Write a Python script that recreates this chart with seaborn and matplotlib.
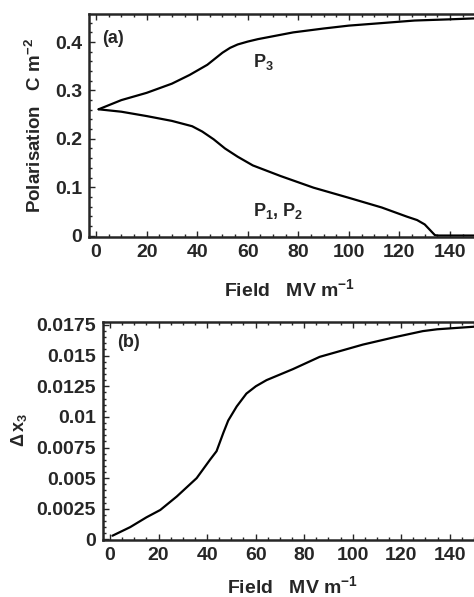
import matplotlib
matplotlib.use("Agg")
import matplotlib.pyplot as plt
from matplotlib.ticker import MultipleLocator, FuncFormatter
import seaborn as sns
import pandas as pd

# Panel (a): polarisation components vs applied field
field_p3 = [1, 10, 20, 30, 37, 44, 50, 53, 56, 60, 64, 70, 78, 90, 100, 110,
            126, 140, 150]
p3 = [0.261, 0.280, 0.295, 0.314, 0.332, 0.353, 0.378, 0.388, 0.395, 0.401,
      0.406, 0.412, 0.420, 0.428, 0.434, 0.438, 0.4445, 0.447, 0.449]

field_p1 = [1, 10, 20, 30, 38, 42, 46.5, 51, 56, 62, 73, 86, 100, 113, 123,
            127, 130, 132, 134, 135, 150]
p1 = [0.261, 0.256, 0.247, 0.237, 0.226, 0.215, 0.199, 0.180, 0.163, 0.145,
      0.123, 0.099, 0.078, 0.058, 0.039, 0.032, 0.023, 0.012, 0.001, 0.0, 0.0]

# Panel (b): strain change vs applied field
field_x3 = [1, 8.3, 15, 20.7, 27.5, 35.7, 41.2, 43.9, 46.7, 48.7, 52.2, 56.2,
            60.1, 64.5, 75.4, 86.4, 104.2, 117.2, 128.9, 134.8, 150]
dx3 = [0.0003, 0.0010, 0.0018, 0.0024, 0.0035, 0.0050, 0.0065, 0.0072,
       0.0087, 0.0097, 0.01085, 0.0119, 0.0125, 0.0130, 0.0139, 0.0149,
       0.0159, 0.0165, 0.0170, 0.01715, 0.01736]

sns.set_style("ticks")
plt.rcParams["font.family"] = ["Liberation Sans", "DejaVu Sans"]
plt.rcParams["font.weight"] = "bold"
plt.rcParams["mathtext.fontset"] = "custom"
plt.rcParams["mathtext.rm"] = "Liberation Sans:bold"
plt.rcParams["mathtext.bf"] = "Liberation Sans:bold"
plt.rcParams["mathtext.it"] = "Liberation Sans:bold:italic"
plt.rcParams["mathtext.default"] = "rm"

W, H = 474, 597
fig = plt.figure(figsize=(W / 100, H / 100), dpi=100)

ax_a = fig.add_axes([89 / W, 1 - 237 / H, 385 / W, 223 / H])
ax_b = fig.add_axes([103 / W, 1 - 540 / H, 371 / W, 217.7 / H])

df_p3 = pd.DataFrame({"field": field_p3, "val": p3})
df_p1 = pd.DataFrame({"field": field_p1, "val": p1})
df_x3 = pd.DataFrame({"field": field_x3, "val": dx3})

line_kw = dict(color="black", linewidth=1.6, sort=False, estimator=None)
sns.lineplot(data=df_p3, x="field", y="val", ax=ax_a, **line_kw)
sns.lineplot(data=df_p1, x="field", y="val", ax=ax_a, **line_kw)
sns.lineplot(data=df_x3, x="field", y="val", ax=ax_b, **line_kw)

fmt = FuncFormatter(lambda v, pos: "%g" % round(v, 6))

for ax in (ax_a, ax_b):
    ax.xaxis.set_major_locator(MultipleLocator(20))
    ax.xaxis.set_minor_locator(MultipleLocator(5))
    ax.tick_params(which="both", direction="in", top=True, right=False,
                   labelsize=14, width=1.0)
    ax.tick_params(which="major", length=4, pad=5)
    ax.tick_params(which="minor", length=2)
    ax.spines["right"].set_visible(False)
    for s in ("left", "bottom", "top"):
        ax.spines[s].set_linewidth(1.8)
    ax.yaxis.set_major_formatter(fmt)
    for lab in ax.get_xticklabels() + ax.get_yticklabels():
        lab.set_fontweight("bold")
    ax.set_xlabel("Field   MV m$^{-1}$", fontsize=14, fontweight="bold")

ax_a.set_xlim(-2.8, 149.5)
ax_a.set_ylim(-0.003, 0.458)
ax_a.yaxis.set_major_locator(MultipleLocator(0.1))
ax_a.yaxis.set_minor_locator(MultipleLocator(0.02))
ax_a.set_ylabel("Polarisation   C m$^{-2}$", fontsize=13.5, fontweight="bold")
ax_a.yaxis.set_label_coords(-0.115, 0.5)
ax_a.xaxis.set_label_coords(0.52, -0.185)
ax_a.text(0.034, 0.89, "(a)", transform=ax_a.transAxes, fontsize=13,
          fontweight="bold", va="center", ha="left")
ax_a.text(66, 0.359, "P$_3$", fontsize=13, fontweight="bold",
          ha="center", va="center")
ax_a.text(72, 0.05, "P$_1$, P$_2$", fontsize=13, fontweight="bold",
          ha="center", va="center")

ax_b.set_xlim(-2.9, 150)
ax_b.set_ylim(-0.00005, 0.01772)
ax_b.yaxis.set_major_locator(MultipleLocator(0.0025))
ax_b.yaxis.set_minor_locator(MultipleLocator(0.0005))
ax_b.set_ylabel(r"$\Delta\,\mathbf{x}_3$", fontsize=13)
ax_b.yaxis.set_label_coords(-0.2, 0.505)
ax_b.xaxis.set_label_coords(0.512, -0.16)
ax_b.text(0.038, 0.905, "(b)", transform=ax_b.transAxes, fontsize=13,
          fontweight="bold", va="center", ha="left")

fig.savefig("out.png", dpi=100)
